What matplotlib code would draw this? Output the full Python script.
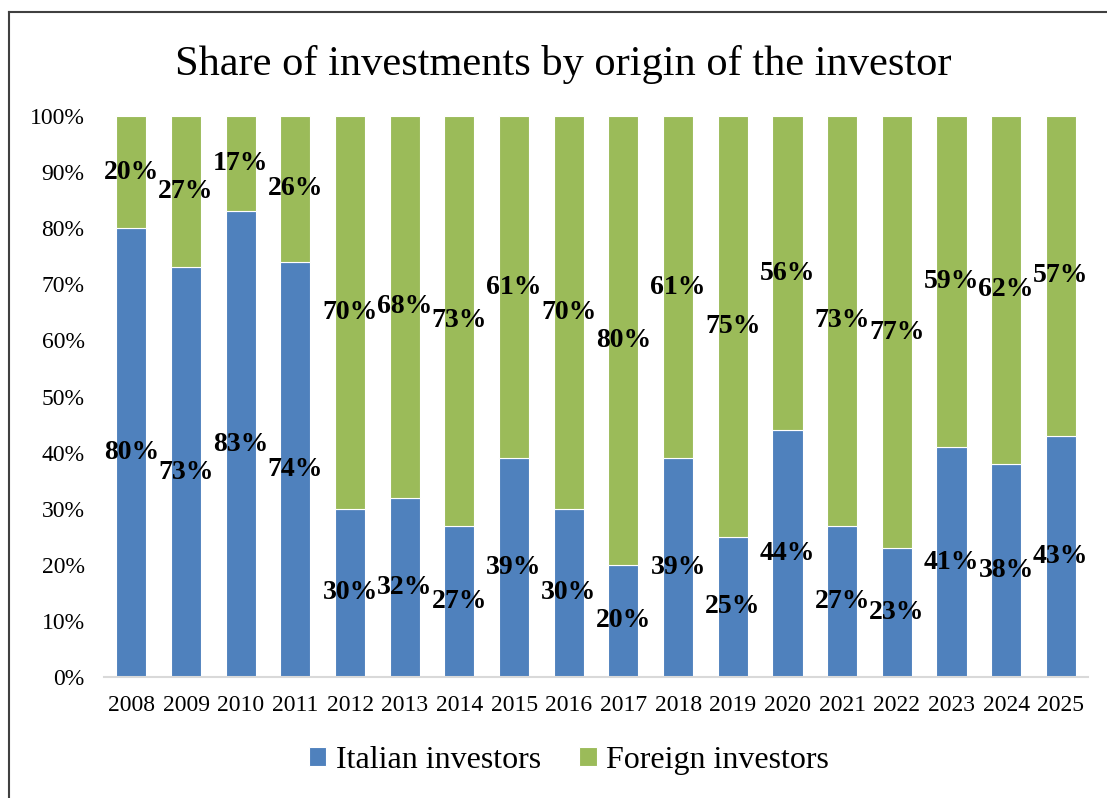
import numpy as np
import matplotlib
matplotlib.use("Agg")
import matplotlib.pyplot as plt
from matplotlib.lines import Line2D

plt.rcParams['font.family'] = ['Liberation Serif', 'DejaVu Serif']

# data
years = ['2008', '2009', '2010', '2011', '2012', '2013', '2014', '2015', '2016',
         '2017', '2018', '2019', '2020', '2021', '2022', '2023', '2024', '2025']
italian = [80, 73, 83, 74, 30, 32, 27, 39, 30, 20, 39, 25, 44, 27, 23, 41, 38, 43]
foreign = [20, 27, 17, 26, 70, 68, 73, 61, 70, 80, 61, 75, 56, 73, 77, 59, 62, 57]
yticks = [0, 10, 20, 30, 40, 50, 60, 70, 80, 90, 100]

blue = '#4F81BD'
green = '#9BBB59'

fig = plt.figure(figsize=(11.07, 7.98), dpi=100)
ax = fig.add_axes([0.094, 0.1516, 0.889, 0.703])

x = np.arange(len(years))
ita = np.array(italian) / 100
fo = np.array(foreign) / 100

b1 = ax.bar(x, ita, width=0.55, color=blue, edgecolor='white', linewidth=0.8,
            label='Italian investors')
b2 = ax.bar(x, fo, width=0.55, bottom=ita, color=green, edgecolor='white',
            linewidth=0.8, label='Foreign investors')

# labels in the middle of each segment
for i in range(len(years)):
    ax.text(x[i], ita[i] / 2, f'{italian[i]}%', ha='center', va='center',
            fontsize=20, fontweight='bold')
    ax.text(x[i], ita[i] + fo[i] / 2, f'{foreign[i]}%', ha='center', va='center',
            fontsize=20, fontweight='bold')

ax.set_xlim(-0.5, len(years) - 0.5)
ax.set_ylim(0, 1)
ax.set_yticks([t / 100 for t in yticks])
ax.set_yticklabels([f'{t}%' for t in yticks])
ax.set_xticks(x)
ax.set_xticklabels(years)
ax.tick_params(axis='y', length=0, pad=14, labelsize=17)
ax.tick_params(axis='x', length=0, pad=13, labelsize=17)

for s in ['top', 'right', 'left']:
    ax.spines[s].set_visible(False)
ax.spines['bottom'].set_color('#D9D9D9')
ax.spines['bottom'].set_linewidth(1.5)

fig.text(0.509, 0.919, 'Share of investments by origin of the investor',
         ha='center', va='center', fontsize=30.5)

fig.legend(handles=[b1, b2], loc='center', bbox_to_anchor=(0.514, 0.047), ncol=2,
           frameon=False, fontsize=23, handlelength=0.55, handleheight=0.55,
           handletextpad=0.3, columnspacing=1.2)

# outer border (left and top only visible in the reference)
fig.add_artist(Line2D([0.0081, 0.0081], [0, 0.985], transform=fig.transFigure,
                      color='#404040', linewidth=1.5))
fig.add_artist(Line2D([0.0081, 1], [0.985, 0.985], transform=fig.transFigure,
                      color='#404040', linewidth=1.5))

fig.savefig('out.png', dpi=100)
